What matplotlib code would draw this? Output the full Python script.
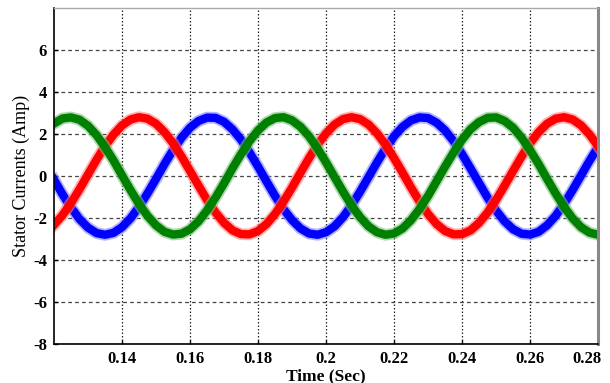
import matplotlib
matplotlib.use("Agg")
import matplotlib.pyplot as plt
import matplotlib.transforms as mtransforms
import numpy as np

plt.rcParams['font.family'] = ['Liberation Serif', 'DejaVu Serif']
plt.rcParams['axes.unicode_minus'] = False

# sampled stator currents, 0.12 s to 0.28 s every 2.5 ms
t = np.linspace(0.12, 0.28, 65)

i_a = [-2.33, -1.87, -1.29, -0.63, 0.07, 0.77, 1.42, 1.97, 2.41, 2.69,
       2.80, 2.73, 2.49, 2.09, 1.56, 0.93, 0.24, -0.46, -1.14, -1.74,
       -2.23, -2.59, -2.77, -2.78, -2.62, -2.29, -1.81, -1.22, -0.55, 0.16,
       0.85, 1.49, 2.03, 2.45, 2.71, 2.80, 2.71, 2.45, 2.03, 1.49,
       0.85, 0.16, -0.55, -1.22, -1.81, -2.29, -2.62, -2.78, -2.77, -2.59,
       -2.23, -1.74, -1.14, -0.46, 0.24, 0.93, 1.56, 2.09, 2.49, 2.73,
       2.80, 2.69, 2.41, 1.97, 1.42]

i_b = [-0.17, -0.87, -1.50, -2.05, -2.46, -2.72, -2.80, -2.71, -2.44, -2.02,
       -1.47, -0.83, -0.14, 0.57, 1.23, 1.82, 2.30, 2.62, 2.78, 2.77,
       2.58, 2.22, 1.73, 1.12, 0.45, -0.26, -0.95, -1.58, -2.10, -2.50,
       -2.74, -2.80, -2.68, -2.40, -1.96, -1.40, -0.75, -0.05, 0.65, 1.31,
       1.89, 2.34, 2.65, 2.79, 2.76, 2.54, 2.17, 1.66, 1.04, 0.36,
       -0.34, -1.03, -1.65, -2.16, -2.54, -2.75, -2.79, -2.66, -2.35, -1.90,
       -1.33, -0.67, 0.03, 0.73, 1.38]

i_c = [2.50, 2.74, 2.79, 2.68, 2.39, 1.95, 1.38, 0.74, 0.03, -0.67,
       -1.33, -1.90, -2.35, -2.66, -2.79, -2.75, -2.54, -2.16, -1.64, -1.03,
       -0.35, 0.37, 1.04, 1.66, 2.17, 2.55, 2.76, 2.80, 2.65, 2.34,
       1.89, 1.31, 0.65, -0.05, -0.75, -1.40, -1.96, -2.40, -2.68, -2.80,
       -2.74, -2.50, -2.10, -1.57, -0.95, -0.25, 0.45, 1.12, 1.73, 2.23,
       2.57, 2.77, 2.79, 2.62, 2.30, 1.82, 1.23, 0.57, -0.14, -0.83,
       -1.47, -2.02, -2.44, -2.70, -2.80]

x_ticks = [0.14, 0.16, 0.18, 0.2, 0.22, 0.24, 0.26, 0.28]
x_labels = ['0.14', '0.16', '0.18', '0.2', '0.22', '0.24', '0.26', '0.28']
y_ticks = [-8, -6, -4, -2, 0, 2, 4, 6]

fig = plt.figure(figsize=(6.1, 3.83), dpi=100)
ax = fig.add_axes([0.0885, 0.102, 0.892, 0.877])

# thick band with a paler fringe for the switching ripple
for y, c, fringe in [(i_b, '#0000ff', '#7f7fff'),
                     (i_a, '#ff0000', '#ff8080'),
                     (i_c, '#008000', '#80c080')]:
    ax.plot(t, y, color=fringe, lw=8.5, alpha=0.6, solid_joinstyle='round')
    ax.plot(t, y, color=c, lw=6, solid_joinstyle='round')

ax.set_xlim(0.12, 0.28)
ax.set_ylim(-8, 8)
ax.set_xticks(x_ticks)
ax.set_xticklabels(x_labels)
ax.set_yticks(y_ticks)

for v in x_ticks:
    ax.axvline(v, color='#222222', lw=0.9, dashes=(1.2, 1.6), zorder=0)
for v in y_ticks:
    ax.axhline(v, color='#444444', lw=0.9, dashes=(3, 2.5), zorder=0)

ax.tick_params(direction='in', length=3, width=1, labelsize=12, pad=5)
for lab in ax.get_xticklabels() + ax.get_yticklabels():
    lab.set_fontweight('bold')

# pull the last time label in so it stays inside the figure
last = ax.get_xticklabels()[-1]
last.set_transform(last.get_transform() +
                   mtransforms.ScaledTranslation(-8 / 72, 0, fig.dpi_scale_trans))

ax.spines['left'].set_linewidth(1.2)
ax.spines['bottom'].set_linewidth(1.2)
ax.spines['top'].set_color('#aaaaaa')
ax.spines['top'].set_linewidth(1.0)
ax.spines['right'].set_color('#888888')
ax.spines['right'].set_linewidth(2.2)

ax.set_xlabel('Time (Sec)', fontsize=12.5, fontweight='bold', labelpad=1)
ax.set_ylabel('Stator Currents (Amp)', fontsize=13, labelpad=2)

fig.savefig('out.png', dpi=100, facecolor='white')
